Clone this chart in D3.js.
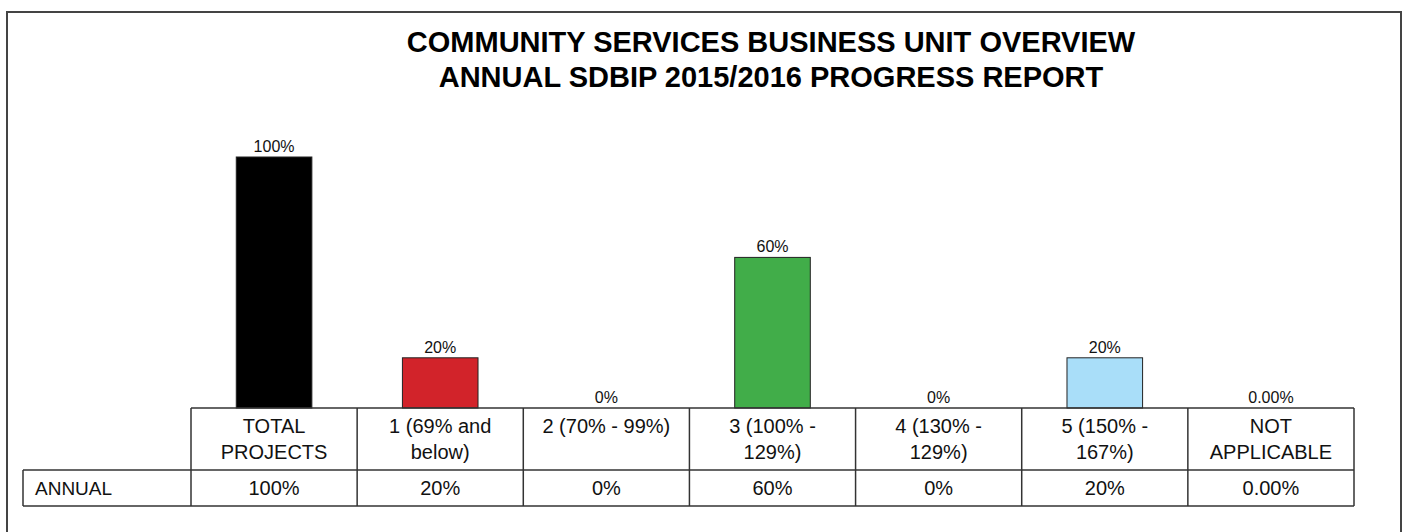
<!DOCTYPE html>
<html>
<head>
<meta charset="utf-8">
<script src="https://cdn.jsdelivr.net/npm/d3@7/dist/d3.min.js"></script>
<style>
  html, body { margin: 0; padding: 0; background: #fff; }
  svg { display: block; }
  text { font-family: "Liberation Sans", Arial, Helvetica, sans-serif; fill: #111; }
</style>
</head>
<body>
<svg id="chart" width="1406" height="532"></svg>
<script>
// Chart data
const titleLines = [
  "COMMUNITY SERVICES BUSINESS UNIT OVERVIEW",
  "ANNUAL SDBIP 2015/2016 PROGRESS REPORT"
];
const categories = [
  "TOTAL PROJECTS",
  "1 (69% and below)",
  "2 (70% - 99%)",
  "3 (100% - 129%)",
  "4 (130% - 129%)",
  "5 (150% - 167%)",
  "NOT APPLICABLE"
];
const categoryLines = [
  ["TOTAL", "PROJECTS"],
  ["1 (69% and", "below)"],
  ["2 (70% - 99%)"],
  ["3 (100% -", "129%)"],
  ["4 (130% -", "129%)"],
  ["5 (150% -", "167%)"],
  ["NOT", "APPLICABLE"]
];
const seriesName = "ANNUAL";
const annualValues = [100, 20, 0, 60, 0, 20, 0];
const annualLabels = ["100%", "20%", "0%", "60%", "0%", "20%", "0.00%"];
const barColors = ["#000000", "#d2232a", "#cccccc", "#41ad49", "#cccccc", "#a9def9", "#cccccc"];

const svg = d3.select("#chart");
const W = 1406, H = 532;

svg.append("rect").attr("width", W).attr("height", H).attr("fill", "#fff");

// outer frame
svg.append("rect")
  .attr("x", 7).attr("y", 12)
  .attr("width", 1394).attr("height", 560)
  .attr("fill", "none").attr("stroke", "#444").attr("stroke-width", 2);

// title
svg.append("g").selectAll("text")
  .data(titleLines)
  .join("text")
  .attr("x", 771)
  .attr("y", (d, i) => 52 + i * 35)
  .attr("text-anchor", "middle")
  .attr("font-size", 29)
  .attr("font-weight", "bold")
  .style("fill", "#000")
  .text(d => d);

// scales
const tableLeft = 191, tableRight = 1354, labelLeft = 23;
const baseY = 408, headerBottom = 470, rowBottom = 506;

const x = d3.scaleBand().domain(categories).range([tableLeft, tableRight]).paddingInner(0).paddingOuter(0);
const y = d3.scaleLinear().domain([0, 100]).range([baseY, 157]);
const barW = x.bandwidth() * 0.455;

// bars
svg.append("g").selectAll("rect")
  .data(categories)
  .join("rect")
  .attr("x", d => x(d) + (x.bandwidth() - barW) / 2)
  .attr("width", barW)
  .attr("y", (d, i) => y(annualValues[i]))
  .attr("height", (d, i) => baseY - y(annualValues[i]))
  .attr("fill", (d, i) => barColors[i])
  .attr("stroke", (d, i) => annualValues[i] > 0 ? "#222" : "none")
  .attr("stroke-width", 1);

// bar value labels
svg.append("g").selectAll("text")
  .data(categories)
  .join("text")
  .attr("x", d => x(d) + x.bandwidth() / 2)
  .attr("y", (d, i) => y(annualValues[i]) - 5)
  .attr("text-anchor", "middle")
  .attr("font-size", 16)
  .text((d, i) => annualLabels[i]);

// data table
const grid = svg.append("g").attr("stroke", "#333").attr("stroke-width", 1.5).attr("fill", "none");
grid.append("line").attr("x1", tableLeft).attr("x2", tableRight).attr("y1", baseY).attr("y2", baseY);
grid.append("line").attr("x1", labelLeft).attr("x2", tableRight).attr("y1", headerBottom).attr("y2", headerBottom);
grid.append("line").attr("x1", labelLeft).attr("x2", tableRight).attr("y1", rowBottom).attr("y2", rowBottom);
grid.append("line").attr("x1", labelLeft).attr("x2", labelLeft).attr("y1", headerBottom).attr("y2", rowBottom);
const bounds = categories.map(c => x(c)).concat([tableRight]);
grid.selectAll("line.v")
  .data(bounds)
  .join("line")
  .attr("class", "v")
  .attr("x1", d => d).attr("x2", d => d)
  .attr("y1", baseY).attr("y2", rowBottom);

// header labels
const header = svg.append("g");
categories.forEach((c, i) => {
  header.append("text")
    .attr("x", x(c) + x.bandwidth() / 2)
    .attr("text-anchor", "middle")
    .attr("font-size", 20)
    .selectAll("tspan")
    .data(categoryLines[i])
    .join("tspan")
    .attr("x", x(c) + x.bandwidth() / 2)
    .attr("y", (d, j) => 433 + j * 26)
    .text(d => d);
});

// value row
svg.append("text")
  .attr("x", 35).attr("y", 495)
  .attr("font-size", 19)
  .text(seriesName);
svg.append("g").selectAll("text")
  .data(categories)
  .join("text")
  .attr("x", d => x(d) + x.bandwidth() / 2)
  .attr("y", 495)
  .attr("text-anchor", "middle")
  .attr("font-size", 20)
  .text((d, i) => annualLabels[i]);
</script>
</body>
</html>
